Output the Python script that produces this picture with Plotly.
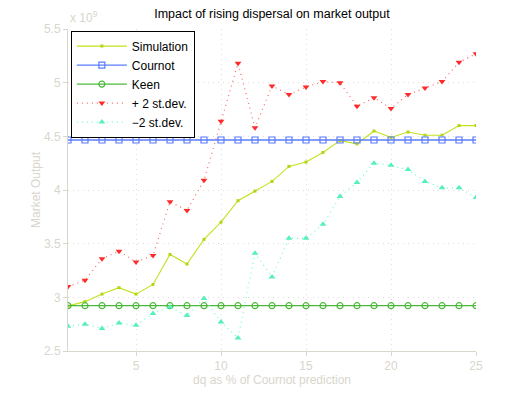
import plotly.graph_objects as go

# -----------------------------------------------------
# Data (market output, units of 1e9)
# -----------------------------------------------------

dq = list(range(1, 26))

simulation = [2.92, 2.96, 3.03, 3.09, 3.03, 3.12, 3.40, 3.31, 3.54, 3.70,
              3.90, 3.99, 4.08, 4.22, 4.26, 4.35, 4.46, 4.43, 4.55, 4.49,
              4.54, 4.51, 4.51, 4.60, 4.60]

cournot = [4.466] * 25

keen = [2.922] * 25

plus_2sd = [3.10, 3.16, 3.36, 3.43, 3.33, 3.39, 3.89, 3.81, 4.09, 4.64,
            5.18, 4.58, 4.97, 4.89, 4.96, 5.01, 5.00, 4.78, 4.86, 4.76,
            4.89, 4.95, 5.01, 5.19, 5.27]

minus_2sd = [2.73, 2.75, 2.71, 2.76, 2.74, 2.85, 2.91, 2.83, 2.99, 2.77,
             2.62, 3.41, 3.19, 3.55, 3.55, 3.68, 3.94, 4.07, 4.25, 4.23,
             4.19, 4.08, 4.02, 4.02, 3.93]

x_ticks = [5, 10, 15, 20, 25]
y_ticks = [2.5, 3, 3.5, 4, 4.5, 5, 5.5]

# -----------------------------------------------------
# Figure
# -----------------------------------------------------

axis_grey = "#d9d6cc"
grid_grey = "#dddddd"

fig = go.Figure()

fig.add_scatter(
    x=dq, y=simulation, name="Simulation", mode="lines+markers",
    line=dict(color="#c2e21c", width=1.1),
    marker=dict(symbol="square", size=3, color="#b4d414"),
)
fig.add_scatter(
    x=dq, y=cournot, name="Cournot", mode="lines+markers",
    line=dict(color="#5a7cff", width=1.3),
    marker=dict(symbol="square-open", size=6, color="#5a7cff", line=dict(width=1.2)),
)
fig.add_scatter(
    x=dq, y=keen, name="Keen", mode="lines+markers",
    line=dict(color="#4cb83a", width=1.3),
    marker=dict(symbol="circle-open", size=6, color="#4cb83a", line=dict(width=1.2)),
)
fig.add_scatter(
    x=dq, y=plus_2sd, name="+ 2 st.dev.", mode="lines+markers",
    line=dict(color="#ff6666", width=1.2, dash="1px,4px"),
    marker=dict(symbol="triangle-down", size=6, color="#ff2a2a"),
)
fig.add_scatter(
    x=dq, y=minus_2sd, name="\u22122 st.dev.", mode="lines+markers",
    line=dict(color="#66ffcc", width=1.2, dash="1px,4px"),
    marker=dict(symbol="triangle-up", size=6, color="#55f0bb"),
)

fig.update_layout(
    width=525,
    height=396,
    margin=dict(l=68, r=49, t=29, b=45),
    paper_bgcolor="white",
    plot_bgcolor="white",
    font=dict(family="Liberation Sans, Arial, sans-serif", size=12, color=axis_grey),
    title=dict(
        text="Impact of rising dispersal on market output",
        x=0.518, xanchor="center", y=0.965, yanchor="middle",
        font=dict(size=12.5, color="black"),
    ),
    showlegend=True,
    legend=dict(
        x=0.007, y=0.995, xanchor="left", yanchor="top",
        bgcolor="white", bordercolor="black", borderwidth=1,
        font=dict(size=12, color="black"),
        itemwidth=50, tracegroupgap=0,
    ),
    xaxis=dict(
        range=[1, 25], tickvals=x_ticks, automargin=False,
        showline=True, linecolor=axis_grey, linewidth=1,
        ticks="outside", ticklen=4, tickcolor=axis_grey,
        showgrid=True, gridcolor=grid_grey, griddash="1px,4px",
        zeroline=False,
        title=dict(text="dq as % of Cournot prediction", standoff=3,
                   font=dict(size=12, color=axis_grey)),
    ),
    yaxis=dict(
        range=[2.5, 5.5], tickvals=y_ticks, automargin=False,
        showline=True, linecolor=axis_grey, linewidth=1,
        ticks="outside", ticklen=4, tickcolor=axis_grey,
        showgrid=True, gridcolor=grid_grey, griddash="1px,4px",
        zeroline=False,
        title=dict(text="Market Output", standoff=0,
                   font=dict(size=12, color=axis_grey)),
    ),
)

# exponent label at the top of the y axis
fig.add_annotation(
    text="x 10<sup>9</sup>", xref="paper", yref="paper",
    x=0.0, y=1.0, xanchor="left", yanchor="bottom", yshift=2,
    showarrow=False, font=dict(size=12, color=axis_grey),
)

# drop the page's default body margin so the figure sits at the window's corner
fig.write_html(
    "out.html",
    config={"displayModeBar": False},
    post_script="document.body.style.margin='0';",
)
